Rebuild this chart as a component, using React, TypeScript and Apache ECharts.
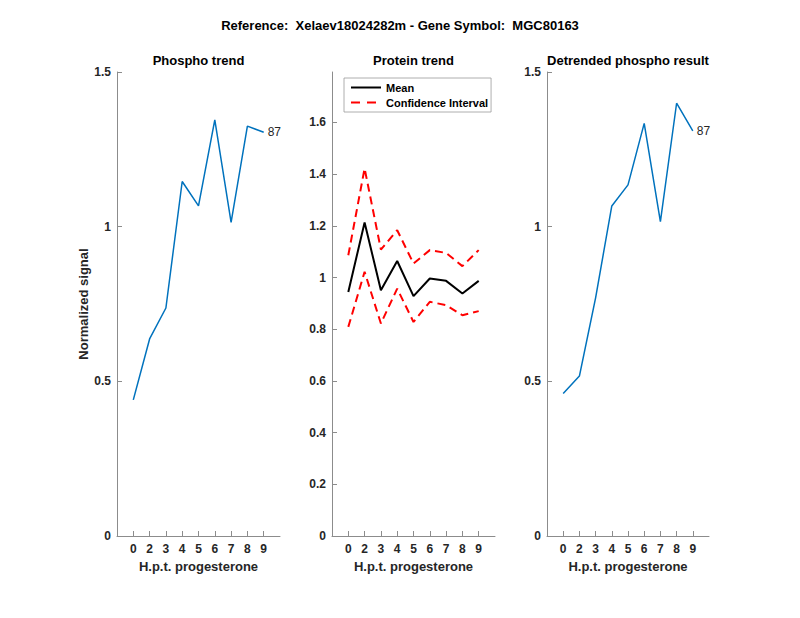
import React, { useEffect, useRef } from "react";
import * as echarts from "echarts";

const mainTitle = "Reference:  Xelaev18024282m - Gene Symbol:  MGC80163";
const panelTitles = ["Phospho trend", "Protein trend", "Detrended phospho result"];
const hptLabels = ["0", "2", "3", "4", "5", "6", "7", "8", "9"];
const phosphoTrend = [0.44, 0.637, 0.737, 1.146, 1.067, 1.345, 1.014, 1.325, 1.305];
const proteinMean = [0.944, 1.213, 0.951, 1.064, 0.928, 0.996, 0.987, 0.938, 0.987];
const proteinUpper = [1.086, 1.422, 1.108, 1.183, 1.054, 1.106, 1.095, 1.044, 1.106];
const proteinLower = [0.809, 1.022, 0.822, 0.957, 0.828, 0.906, 0.893, 0.854, 0.87];
const detrendedPhospho = [0.461, 0.517, 0.77, 1.067, 1.135, 1.334, 1.016, 1.399, 1.31];
const phosphoTicks = [0, 0.5, 1, 1.5];
const proteinTicks = [0, 0.2, 0.4, 0.6, 0.8, 1, 1.2, 1.4, 1.6];
const peptideLabel = "87";

const FONT = "'Liberation Sans', Arial, Helvetica, sans-serif";
const TEXT = "#262626";
const AXIS = "#8c8c8c";

const grids = [
  { left: 117, top: 72, width: 163, height: 464 },
  { left: 332, top: 72, width: 163, height: 464 },
  { left: 547, top: 72, width: 162, height: 464 },
];

const xPositions = hptLabels.map((_, i) => i + 1);
const toPoints = (vals: number[]) => vals.map((v, i) => [xPositions[i], v]);

function makeX(gridIndex: number) {
  return {
    type: "value",
    gridIndex,
    min: 0,
    max: hptLabels.length + 1,
    interval: 1,
    name: "H.p.t. progesterone",
    nameLocation: "middle",
    nameGap: 23,
    nameTextStyle: { fontFamily: FONT, fontWeight: "bold", fontSize: 13, color: TEXT },
    axisLine: { show: true, lineStyle: { color: AXIS, width: 1 } },
    axisTick: { show: true, inside: true, length: 5, customValues: xPositions, lineStyle: { color: AXIS } },
    axisLabel: {
      show: true,
      customValues: xPositions,
      margin: 7,
      fontFamily: FONT,
      fontWeight: "bold",
      fontSize: 12,
      color: TEXT,
      formatter: (v: number) => hptLabels[Math.round(v) - 1] ?? "",
    },
    splitLine: { show: false },
  };
}

function makeY(gridIndex: number, max: number, interval: number, ticks: number[], name?: string) {
  return {
    type: "value",
    gridIndex,
    min: 0,
    max,
    interval,
    name: name ?? "",
    nameLocation: "middle",
    nameGap: 22,
    nameTextStyle: { fontFamily: FONT, fontWeight: "bold", fontSize: 13, color: TEXT },
    axisLine: { show: true, lineStyle: { color: AXIS, width: 1 } },
    axisTick: { show: true, inside: true, length: 5, customValues: ticks, lineStyle: { color: AXIS } },
    axisLabel: {
      show: true,
      customValues: ticks,
      margin: 6,
      fontFamily: FONT,
      fontWeight: "bold",
      fontSize: 12,
      color: TEXT,
      formatter: (v: number) => String(Math.round(v * 10) / 10),
    },
    splitLine: { show: false },
  };
}

export default function App() {
  const ref = useRef<HTMLDivElement>(null);
  useEffect(() => {
    if (!ref.current) return;
    const chart = echarts.init(ref.current, undefined, { renderer: "svg" });
    const blue = "#0072BD";
    const endLabel = {
      show: true,
      formatter: peptideLabel,
      fontFamily: FONT,
      fontSize: 12,
      color: TEXT,
      distance: 4,
    };
    chart.setOption({
      animation: false,
      backgroundColor: "#ffffff",
      textStyle: { fontFamily: FONT },
      grid: grids,
      xAxis: [makeX(0), makeX(1), makeX(2)],
      yAxis: [
        makeY(0, 1.5, 0.5, phosphoTicks, "Normalized signal"),
        makeY(1, 1.795, 0.2, proteinTicks),
        makeY(2, 1.5, 0.5, phosphoTicks),
      ],
      legend: {
        show: true,
        orient: "vertical",
        left: 344,
        top: 78,
        padding: [4, 3, 4, 6],
        itemGap: 4,
        itemWidth: 30,
        itemHeight: 12,
        borderColor: "#999999",
        borderWidth: 0.8,
        backgroundColor: "#ffffff",
        itemStyle: { opacity: 0 },
        data: [
          { name: "Mean" },
          { name: "Confidence Interval", lineStyle: { type: [9, 7] } },
        ],
        textStyle: { fontFamily: FONT, fontWeight: "bold", fontSize: 11, color: "#000000" },
      },
      graphic: [
        {
          type: "text",
          x: 400,
          y: 25,
          style: {
            text: mainTitle,
            font: `bold 13px ${FONT}`,
            fill: "#000000",
            textAlign: "center",
            textVerticalAlign: "middle",
          },
        },
        ...panelTitles.map((t, i) => ({
          type: "text",
          x: grids[i].left + grids[i].width / 2,
          y: 60,
          style: {
            text: t,
            font: `bold 13px ${FONT}`,
            fill: "#000000",
            textAlign: "center",
            textVerticalAlign: "middle",
          },
        })),
      ],
      series: [
        {
          type: "line",
          name: "Phospho",
          xAxisIndex: 0,
          yAxisIndex: 0,
          data: toPoints(phosphoTrend),
          symbol: "none",
          lineStyle: { color: blue, width: 1.5 },
          itemStyle: { color: blue },
          endLabel,
        },
        {
          type: "line",
          name: "Mean",
          xAxisIndex: 1,
          yAxisIndex: 1,
          data: toPoints(proteinMean),
          symbol: "none",
          lineStyle: { color: "#000000", width: 2 },
          itemStyle: { color: "#000000" },
        },
        {
          type: "line",
          name: "Confidence Interval",
          xAxisIndex: 1,
          yAxisIndex: 1,
          data: toPoints(proteinUpper),
          symbol: "none",
          lineStyle: { color: "#ff0000", width: 2, type: [8, 5] },
          itemStyle: { color: "#ff0000" },
        },
        {
          type: "line",
          name: "Confidence Interval",
          xAxisIndex: 1,
          yAxisIndex: 1,
          data: toPoints(proteinLower),
          symbol: "none",
          lineStyle: { color: "#ff0000", width: 2, type: [8, 5] },
          itemStyle: { color: "#ff0000" },
        },
        {
          type: "line",
          name: "Detrended",
          xAxisIndex: 2,
          yAxisIndex: 2,
          data: toPoints(detrendedPhospho),
          symbol: "none",
          lineStyle: { color: blue, width: 1.5 },
          itemStyle: { color: blue },
          endLabel,
        },
      ],
    });
    return () => chart.dispose();
  }, []);
  return (
    <div
      ref={ref}
      style={{ position: "fixed", left: 0, top: 0, width: 800, height: 618, background: "#fff" }}
    />
  );
}
